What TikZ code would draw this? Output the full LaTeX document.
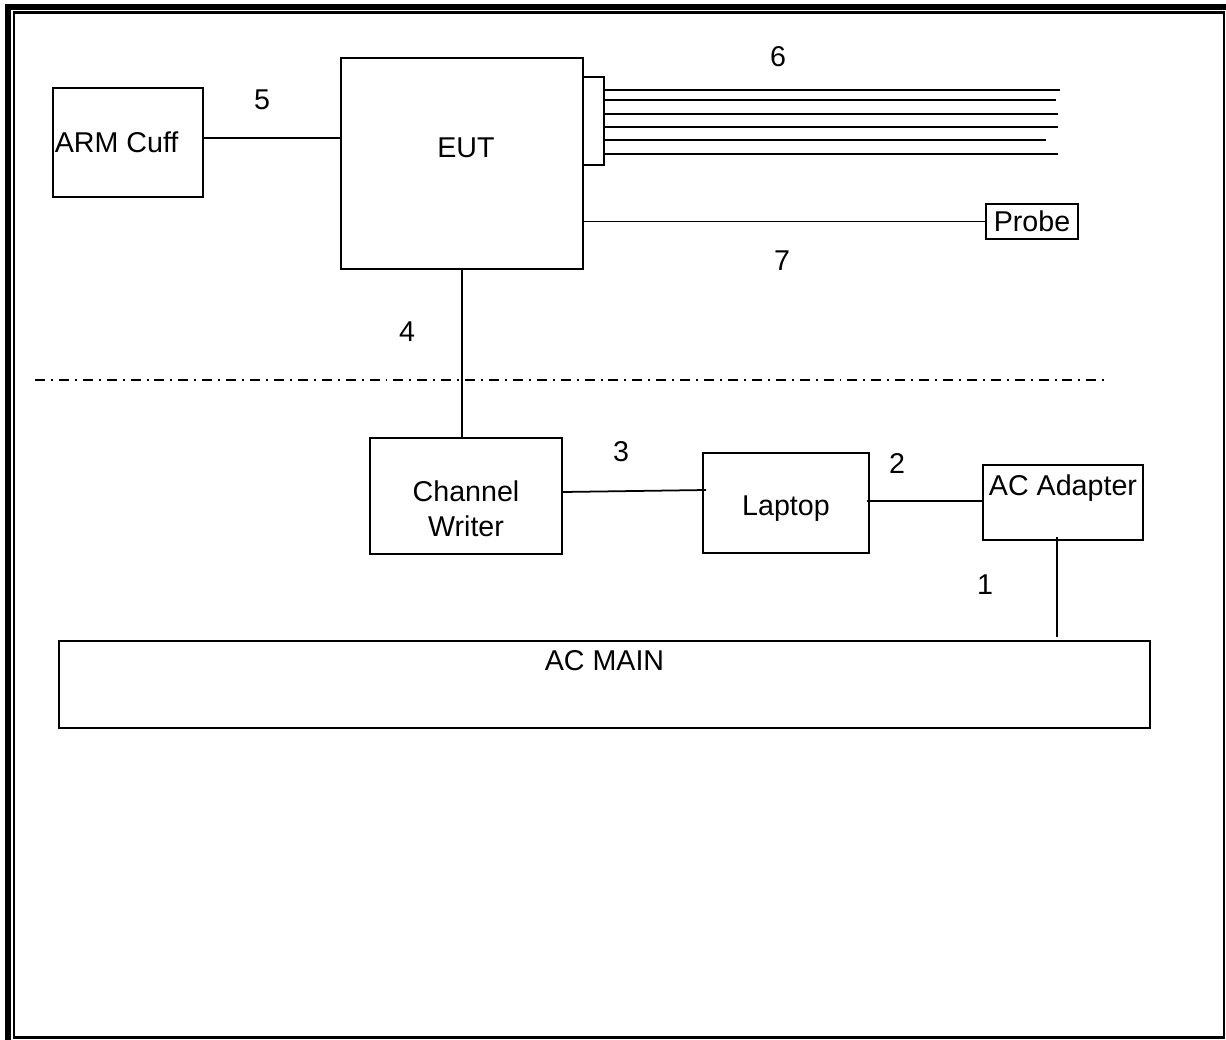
\documentclass[tikz,border=0pt]{standalone}
\usepackage{fontspec}
\setmainfont{Liberation Sans}
\usetikzlibrary{positioning,calc}

\begin{document}
\begin{tikzpicture}[
  x=0.02cm,y=-0.02cm,
  font=\fontsize{16.3}{20}\selectfont,
  box/.style={rectangle,draw=black,line width=1.15pt,inner sep=0pt,align=center},
  lbl/.style={inner sep=0.5mm,align=center},
  wire/.style={line width=1pt,draw=black},
  sep/.style={line width=0.9pt,dash pattern=on 5.7pt off 3.4pt on 1.1pt off 3.4pt},
]
  \useasboundingbox (0,0) rectangle (1226,1040);

  % page frame
  \draw[line width=1.3pt] (14,12.5) rectangle (1224,1037.5);
  \draw[line width=3.4pt] (8,1040) -- (8,7) -- (1226,7);

  % nodes
  \node[box,minimum width=30mm,minimum height=21.8mm,
        label={[lbl,anchor=west]west:ARM Cuff}] (cuff) at (128,142.5) {};
  \node[box,minimum width=48.4mm,minimum height=42.2mm,
        label={[lbl,xshift=0.8mm,yshift=3.2mm]center:EUT}] (eut) at (462,163.5) {};
  \node[box,minimum width=4.2mm,minimum height=17.6mm] (plug) at (593.5,121) {};
  \node[box,minimum width=18.4mm,minimum height=7mm] (probe) at (1032,221.5) {Probe};
  \node[box,minimum width=38.4mm,minimum height=23.2mm,
        label={[lbl,yshift=-2.6mm]center:Channel\\Writer}] (cw) at (466,496) {};
  \node[box,minimum width=33.2mm,minimum height=20mm,
        label={[lbl,yshift=-1.2mm]center:Laptop}] (lap) at (786,503) {};
  \node[box,minimum width=32mm,minimum height=15mm,
        label={[lbl,anchor=north,inner sep=2mm]north:AC Adapter}] (adapter) at (1063,502.5) {};
  \node[box,minimum width=218.2mm,minimum height=17.4mm,
        label={[lbl,anchor=north,inner sep=2mm]north:AC MAIN}] (acmain) at (604.5,684.5) {};

  % cables
  \draw[wire] ([yshift=0.9mm]cuff.east) -- ([yshift=0.9mm]cuff.east -| eut.west);
  \foreach \i/\x/\y in {1/1060/90,2/1056/100,3/1058/114,4/1058/127,5/1046/140,6/1058/154}{
    \coordinate (w\i) at (\x,\y);
    \draw[wire] (plug.east |- w\i) -- (w\i);
  }
  \draw[wire] (probe.west -| eut.east) -- (probe.west);
  \draw[wire] (eut.south) -- (eut.south |- cw.north);
  \draw[wire] ([yshift=0.8mm]cw.east) -- ([xshift=0.8mm,yshift=2.6mm]lap.west);
  \draw[wire] ([xshift=-0.6mm,yshift=0.4mm]lap.east) -- ([yshift=0.4mm]lap.east -| adapter.west);
  \draw[wire] ([xshift=-1.2mm,yshift=0.8mm]adapter.south) -- ([xshift=-1.2mm,yshift=0.6mm]adapter.south |- acmain.north);

  % cable numbers
  \node[lbl] (n1) at (985,585) {1};
  \node[lbl] (n2) at (897,463) {2};
  \node[lbl] (n3) at (621,452) {3};
  \node[lbl] (n4) at (407,332) {4};
  \node[lbl] (n5) at (262,100) {5};
  \node[lbl] (n6) at (778,57) {6};
  \node[lbl] (n7) at (782,261) {7};

  % boundary line
  \draw[sep] (35,380) -- (1105,380);
\end{tikzpicture}
\end{document}
